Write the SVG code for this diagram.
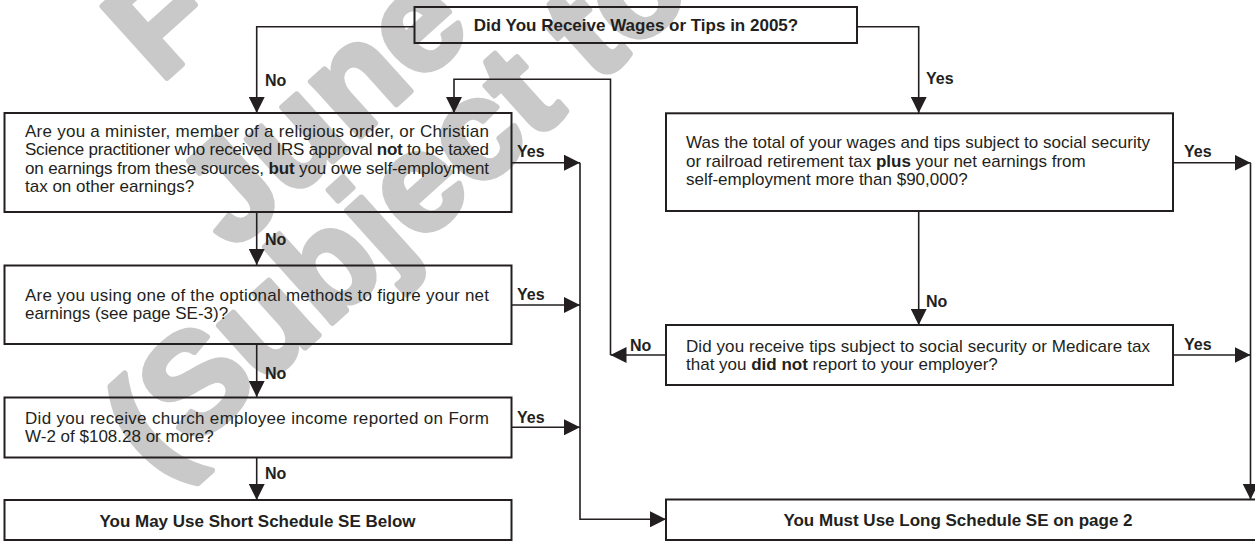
<svg xmlns="http://www.w3.org/2000/svg" width="1255" height="541" viewBox="0 0 1255 541">
  <defs>
    <style>
      .box { fill: none; stroke: #231f20; stroke-width: 2; }
      .wire { fill: none; stroke: #231f20; stroke-width: 1.6; }
      .t { font-family: "Liberation Sans", Arial, Helvetica, sans-serif; font-size: 17px; fill: #231f20; }
      .b { font-weight: bold; }
      .lbl { font-family: "Liberation Sans", Arial, Helvetica, sans-serif; font-size: 16px; font-weight: bold; fill: #231f20; }
      .wm { font-family: "Liberation Sans", Arial, Helvetica, sans-serif; font-size: 140px; font-weight: bold; fill: #c9c9c9; stroke: #c9c9c9; stroke-width: 6; stroke-linejoin: round; }
    </style>
    <marker id="ah" viewBox="0 0 16 16" refX="16" refY="8" markerWidth="16" markerHeight="16" orient="auto" markerUnits="userSpaceOnUse">
      <path d="M0,0 L16,8 L0,16 Z" fill="#231f20"/>
    </marker>
  </defs>

  <!-- draft watermark, behind everything -->
  <g id="watermark">
    <text class="wm" transform="translate(160,84) rotate(-42)">F</text>
    <text class="wm" transform="translate(232,252) rotate(-42)">June</text>
    <text class="wm" transform="translate(158,480) rotate(-42)">(Subject to</text>
  </g>

  <!-- connectors -->
  <g id="connectors">
    <path class="wire" d="M414,26.7 H256.7 V113" marker-end="url(#ah)"/>
    <path class="wire" d="M857,26.7 H918.7 V113" marker-end="url(#ah)"/>
    <path class="wire" d="M256.7,212 V265" marker-end="url(#ah)"/>
    <path class="wire" d="M256.7,344 V397" marker-end="url(#ah)"/>
    <path class="wire" d="M256.7,458 V500" marker-end="url(#ah)"/>
    <path class="wire" d="M512,162.7 H580" marker-end="url(#ah)"/>
    <path class="wire" d="M512,305 H580" marker-end="url(#ah)"/>
    <path class="wire" d="M512,427.3 H580" marker-end="url(#ah)"/>
    <path class="wire" d="M580,162.7 V519.3 H666" marker-end="url(#ah)"/>
    <path class="wire" d="M1173,162.7 H1250.5" marker-end="url(#ah)"/>
    <path class="wire" d="M1173,355 H1250.5" marker-end="url(#ah)"/>
    <path class="wire" d="M1250.5,162.7 V499.5" marker-end="url(#ah)"/>
    <path class="wire" d="M918.7,211 V325" marker-end="url(#ah)"/>
    <path class="wire" d="M666,355 H610.5" marker-end="url(#ah)"/>
    <path class="wire" d="M610.5,355 V79.3 H454 V113" marker-end="url(#ah)"/>
    <text class="lbl" x="265" y="86">No</text>
    <text class="lbl" x="926" y="84">Yes</text>
    <text class="lbl" x="265" y="245">No</text>
    <text class="lbl" x="265" y="379">No</text>
    <text class="lbl" x="265" y="479">No</text>
    <text class="lbl" x="517" y="157.3">Yes</text>
    <text class="lbl" x="517" y="300">Yes</text>
    <text class="lbl" x="517" y="422.7">Yes</text>
    <text class="lbl" x="1184" y="157.3">Yes</text>
    <text class="lbl" x="1184" y="350">Yes</text>
    <text class="lbl" x="926" y="306.7">No</text>
    <text class="lbl" x="630" y="350.5">No</text>
  </g>

  <g id="start">
    <rect class="box" x="414.5" y="7" width="442.5" height="36"/>
    <text class="t b" x="636" y="31" text-anchor="middle">Did You Receive Wages or Tips in 2005?</text>
  </g>

  <g id="minister">
    <rect class="box" x="4.5" y="113" width="507" height="99"/>
    <text class="t" x="25" y="137" textLength="464" lengthAdjust="spacing">Are you a minister, member of a religious order, or Christian</text>
    <text class="t" x="25" y="155.3" textLength="464" lengthAdjust="spacing">Science practitioner who received IRS approval <tspan class="b">not</tspan> to be taxed</text>
    <text class="t" x="25" y="173.6" textLength="464" lengthAdjust="spacing">on earnings from these sources, <tspan class="b">but</tspan> you owe self-employment</text>
    <text class="t" x="25" y="192">tax on other earnings?</text>
  </g>

  <g id="optional">
    <rect class="box" x="4.5" y="265.5" width="507" height="78.5"/>
    <text class="t" x="25" y="301" textLength="464" lengthAdjust="spacing">Are you using one of the optional methods to figure your net</text>
    <text class="t" x="25" y="319.3">earnings (see page SE-3)?</text>
  </g>

  <g id="church">
    <rect class="box" x="4.5" y="397.5" width="507" height="60"/>
    <text class="t" x="25" y="424" textLength="464" lengthAdjust="spacing">Did you receive church employee income reported on Form</text>
    <text class="t" x="25" y="442">W-2 of $108.28 or more?</text>
  </g>

  <g id="short">
    <rect class="box" x="4.5" y="500" width="507" height="40"/>
    <text class="t b" x="257.5" y="526.5" text-anchor="middle">You May Use Short Schedule SE Below</text>
  </g>

  <g id="total">
    <rect class="box" x="666" y="113.3" width="507" height="97.7"/>
    <text class="t" x="686" y="148.3" textLength="464" lengthAdjust="spacing">Was the total of your wages and tips subject to social security</text>
    <text class="t" x="686" y="166.6">or railroad retirement tax <tspan class="b">plus</tspan> your net earnings from</text>
    <text class="t" x="686" y="185">self-employment more than $90,000?</text>
  </g>

  <g id="tips">
    <rect class="box" x="666" y="325" width="507" height="60"/>
    <text class="t" x="686" y="351.7" textLength="464" lengthAdjust="spacing">Did you receive tips subject to social security or Medicare tax</text>
    <text class="t" x="686" y="370">that you <tspan class="b">did not</tspan> report to your employer?</text>
  </g>

  <g id="long">
    <rect class="box" x="666" y="499.5" width="600" height="40.5"/>
    <text class="t b" x="958" y="526" text-anchor="middle">You Must Use Long Schedule SE on page 2</text>
  </g>
</svg>
